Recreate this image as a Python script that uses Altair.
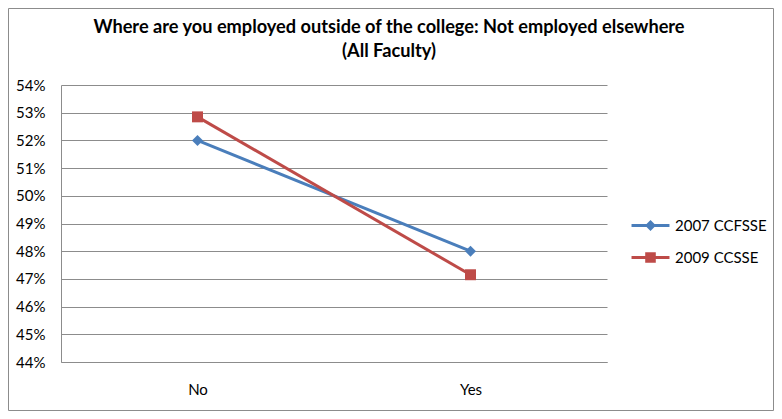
import altair as alt
import pandas as pd

categories = ["No", "Yes"]
series_names = ["2007 CCFSSE", "2009 CCSSE"]
values_2007 = [0.520, 0.480]
values_2009 = [0.5285, 0.4715]
y_ticks = [0.44, 0.45, 0.46, 0.47, 0.48, 0.49, 0.50, 0.51, 0.52, 0.53, 0.54]
colors = ["#4a7ebb", "#be4b48"]
marker_shapes = ["diamond", "square"]
title_lines = ["Where are you employed outside of the college: Not employed elsewhere", "(All Faculty)"]

rows = []
for name, vals in zip(series_names, [values_2007, values_2009]):
    for c, v in zip(categories, vals):
        rows.append({"category": c, "series": name, "value": v})
df = pd.DataFrame(rows)

W, H = 546, 277
PAD = {"left": 53, "top": 77, "right": 167, "bottom": 49}
GRID = "#8c8c8c"
FONT = "Lato"

leg = alt.Legend(orient="none", legendX=582, legendY=133, title=None, symbolStrokeWidth=3,
                 symbolSize=90, labelFontSize=15, labelOffset=17, rowPadding=12, padding=0,
                 symbolOpacity=1, labelColor="#000000", labelFont=FONT)
diamond_path = "M-4,0H4M0,-0.7L0.7,0L0,0.7L-0.7,0Z"
square_path = "M-4,0H4M-0.8,-0.8H0.8V0.8H-0.8Z"

x_enc = alt.X("category:N", sort=categories,
              scale=alt.Scale(type="point", padding=0.5),
              axis=alt.Axis(title=None, labelAngle=0, ticks=False, domain=True,
                            domainColor=GRID, labelPadding=20, grid=False))
y_enc = alt.Y("value:Q", scale=alt.Scale(domain=[0.44, 0.54], nice=False, zero=False),
              axis=alt.Axis(title=None, format=".0%", values=y_ticks, grid=True,
                            gridColor=GRID, ticks=False, domainColor=GRID, labelPadding=16))
color_enc = alt.Color("series:N", scale=alt.Scale(domain=series_names, range=colors), legend=leg)

base = alt.Chart(df)

lines = base.mark_line(strokeWidth=3).encode(x=x_enc, y=y_enc, color=color_enc)
point_layers = []
for name, shp in zip(series_names, marker_shapes):
    point_layers.append(
        base.transform_filter(alt.datum.series == name).mark_point(
            filled=True, opacity=1, size=120, shape=shp).encode(x=x_enc, y=y_enc, color=color_enc)
    )

legend_layer = base.mark_point(filled=False, opacity=0, strokeWidth=3).encode(
    x=x_enc, y=y_enc, color=color_enc,
    shape=alt.Shape("series:N", scale=alt.Scale(domain=series_names, range=[diamond_path, square_path]), legend=leg),
)

border = alt.Chart(pd.DataFrame({"a": [0]})).mark_rect(fillOpacity=0, stroke=GRID, strokeWidth=1).encode(
    x=alt.value(-52.5), x2=alt.value(712.5), y=alt.value(-76.5), y2=alt.value(325.5))

chart = alt.layer(border, lines, *point_layers, legend_layer).properties(
    width=W, height=H,
    autosize=alt.AutoSizeParams(type="none"),
    padding=PAD,
    title=alt.TitleParams(text=title_lines, anchor="middle", frame="group", dx=55, fontSize=18.2,
                          font=FONT, fontWeight="bold", offset=-53, lineHeight=24, color="#000000"),
).configure_view(stroke="transparent").configure_axis(
    labelFont=FONT, labelFontSize=15, labelColor="#000000"
)

chart.save("out.html", embed_options={"renderer": "svg", "actions": False})
